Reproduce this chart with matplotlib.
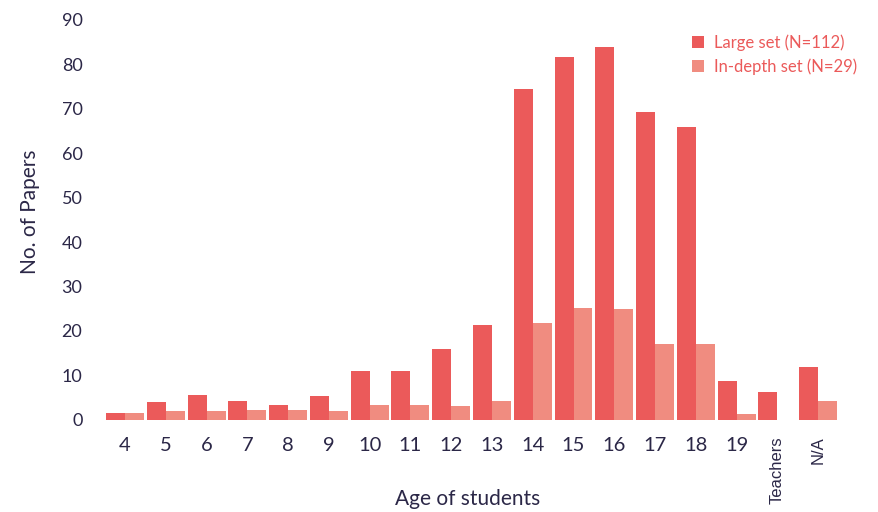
import numpy as np
import matplotlib
matplotlib.use("Agg")
import matplotlib.pyplot as plt

# data
ages = ["4", "5", "6", "7", "8", "9", "10", "11", "12", "13",
        "14", "15", "16", "17", "18", "19", "Teachers", "N/A"]
large_set = [1.6, 4.1, 5.6, 4.3, 3.4, 5.4, 11.0, 11.0, 16.0, 21.4,
             74.5, 81.7, 84.0, 69.3, 66.0, 8.8, 6.3, 11.9]
in_depth_set = [1.6, 2.1, 1.9, 2.3, 2.3, 1.9, 3.4, 3.4, 3.2, 4.3,
                21.8, 25.2, 25.0, 17.1, 17.1, 1.4, 0.0, 4.3]

large_color = "#eb5a5a"
depth_color = "#f08c80"
text_color = "#2b2747"
font_main = ["Lato", "DejaVu Sans"]
font_alt = ["Liberation Sans", "DejaVu Sans"]

plt.rcParams["font.family"] = font_main

fig = plt.figure(figsize=(8.79, 5.12), dpi=100)
ax = fig.add_axes([0.119, 0.18, 0.835, 0.781])

x = np.arange(len(ages))
w = 0.465
ax.bar(x - w / 2, large_set, width=w, color=large_color,
       label="Large set (N=112)")
ax.bar(x + w / 2, in_depth_set, width=w, color=depth_color,
       label="In-depth set (N=29)")

ax.set_xlim(-0.5, len(ages) - 0.5)
ax.set_ylim(0, 90)
ax.set_yticks(range(0, 91, 10))
ax.set_xticks(x)
ax.set_xticklabels(ages)

for s in ax.spines.values():
    s.set_visible(False)
ax.tick_params(axis="both", length=0, colors=text_color)
ax.tick_params(axis="y", labelsize=13, pad=16)
ax.tick_params(axis="x", labelsize=14.5, pad=12)

# Teachers / N/A are rotated and in a different face
for lbl in ax.get_xticklabels():
    if lbl.get_text() in ("Teachers", "N/A"):
        lbl.set_rotation(90)
        lbl.set_family(font_alt)
        lbl.set_fontsize(12)
        lbl.set_va("top")
        lbl.set_ha("center")

ax.set_xlabel("Age of students", fontsize=15, color=text_color)
ax.xaxis.set_label_coords(0.494, -0.174)
ax.set_ylabel("No. of Papers", fontsize=15, color=text_color)
ax.yaxis.set_label_coords(-0.088, 0.52)

leg = ax.legend(loc="upper left", bbox_to_anchor=(692 / 879, 1 - 34 / 512),
                bbox_transform=fig.transFigure, frameon=False,
                fontsize=12, handlelength=0.75, handleheight=0.75,
                handletextpad=0.6, labelspacing=0.45, borderaxespad=0,
                borderpad=0)
for t in leg.get_texts():
    t.set_color(large_color)

fig.savefig("out.png", dpi=100)
